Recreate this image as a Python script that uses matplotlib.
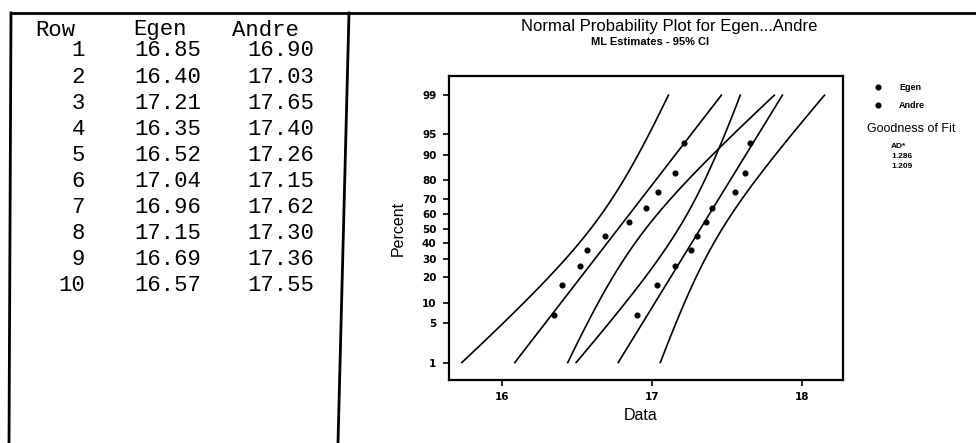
import numpy as np
import matplotlib
matplotlib.use("Agg")
import matplotlib.pyplot as plt
from matplotlib.lines import Line2D
from statistics import NormalDist

# data from the worksheet
rows = list(range(1, 11))
egen = [16.85, 16.40, 17.21, 16.35, 16.52, 17.04, 16.96, 17.15, 16.69, 16.57]
andre = [16.90, 17.03, 17.65, 17.40, 17.26, 17.15, 17.62, 17.30, 17.36, 17.55]
ad_values = ["1.286", "1.209"]
pct_ticks = [1, 5, 10, 20, 30, 40, 50, 60, 70, 80, 90, 95, 99]
x_ticks = [16, 17, 18]

W, H = 976, 443
nd = NormalDist()


def fx(px):
    return px / W


def fy(py):
    return 1 - py / H


fig = plt.figure(figsize=(W / 100, H / 100), dpi=100)
fig.patch.set_facecolor("white")

# ---- worksheet box on the left ----
fig.add_artist(Line2D([fx(11), fx(976)], [fy(13), fy(13)], color="black", lw=2))
fig.add_artist(Line2D([fx(11), fx(9)], [fy(13), fy(443)], color="black", lw=2))
fig.add_artist(Line2D([fx(349), fx(338)], [fy(13), fy(443)], color="black", lw=2))

mono = dict(family="Liberation Mono", fontsize=16, color="black", va="center")
fig.text(fx(35), fy(30), "Row", ha="left", **mono)
fig.text(fx(133), fy(30), "Egen", ha="left", **mono)
fig.text(fx(232), fy(30), "Andre", ha="left", **mono)
for i, (r, e, a) in enumerate(zip(rows, egen, andre)):
    y = fy(51 + 26.1 * i)
    fig.text(fx(85), y, str(r), ha="right", **mono)
    fig.text(fx(201), y, f"{e:.2f}", ha="right", **mono)
    fig.text(fx(314), y, f"{a:.2f}", ha="right", **mono)

# ---- normal probability plot ----
ax = fig.add_axes([fx(449), fy(380), fx(843) - fx(449), fy(76) - fy(380)])

z_lo, z_hi = nd.inv_cdf(0.01), nd.inv_cdf(0.99)
zz = np.linspace(z_lo, z_hi, 100)

for vals in (egen, andre):
    v = np.sort(np.array(vals))
    n = len(v)
    mu = v.mean()
    sigma = np.sqrt(((v - mu) ** 2).mean())  # ML estimate
    ranks = (np.arange(1, n + 1) - 0.3) / (n + 0.4)
    zr = [nd.inv_cdf(p) for p in ranks]
    ax.plot(v, zr, "o", color="black", ms=3.4, zorder=3)
    xp = mu + zz * sigma
    se = sigma * np.sqrt((1 + zz ** 2 / 2) / n)
    ax.plot(xp, zz, color="black", lw=1.2)
    ax.plot(xp - 1.96 * se, zz, color="black", lw=1.2)
    ax.plot(xp + 1.96 * se, zz, color="black", lw=1.2)

ax.set_xlim(15.647, 18.273)
ax.set_ylim(-2.63, 2.66)
ax.set_yticks([nd.inv_cdf(p / 100) for p in pct_ticks])
ax.set_yticklabels([str(p) for p in pct_ticks], fontsize=7.5, fontweight="bold")
ax.set_xticks(x_ticks)
ax.set_xticklabels([str(t) for t in x_ticks], fontsize=7.5, fontweight="bold")
ax.tick_params(direction="out", length=4, width=1.2, pad=5)
for s in ax.spines.values():
    s.set_linewidth(1.6)

sans = "Liberation Sans"
fig.text(fx(669), fy(27), "Normal Probability Plot for Egen...Andre", ha="center",
         va="center", family=sans, fontsize=12)
fig.text(fx(650), fy(42), "ML Estimates - 95% CI", ha="center", va="center",
         family=sans, fontsize=8, fontweight="bold")
fig.text(fx(641), fy(415), "Data", ha="center", va="center", family=sans, fontsize=11.5)
fig.text(fx(398), fy(228), "Percent", ha="center", va="center", rotation=90,
         family=sans, fontsize=11.5)

# legend panel
fig.add_artist(Line2D([fx(878)], [fy(87)], marker="o", ms=3.4, color="black", lw=0))
fig.add_artist(Line2D([fx(878)], [fy(105)], marker="o", ms=3.4, color="black", lw=0))
fig.text(fx(899), fy(87), "Egen", ha="left", va="center", family=sans, fontsize=6.5, fontweight="bold")
fig.text(fx(899), fy(105), "Andre", ha="left", va="center", family=sans, fontsize=6.5, fontweight="bold")
fig.text(fx(911), fy(129), "Goodness of Fit", ha="center", va="center", family=sans, fontsize=9)
fig.text(fx(891), fy(147), "AD*", ha="left", va="center", family=sans, fontsize=6, fontweight="bold")
fig.text(fx(891), fy(157), ad_values[0], ha="left", va="center", family=sans, fontsize=6, fontweight="bold")
fig.text(fx(891), fy(166), ad_values[1], ha="left", va="center", family=sans, fontsize=6, fontweight="bold")

fig.savefig("out.png", dpi=100, facecolor="white")
